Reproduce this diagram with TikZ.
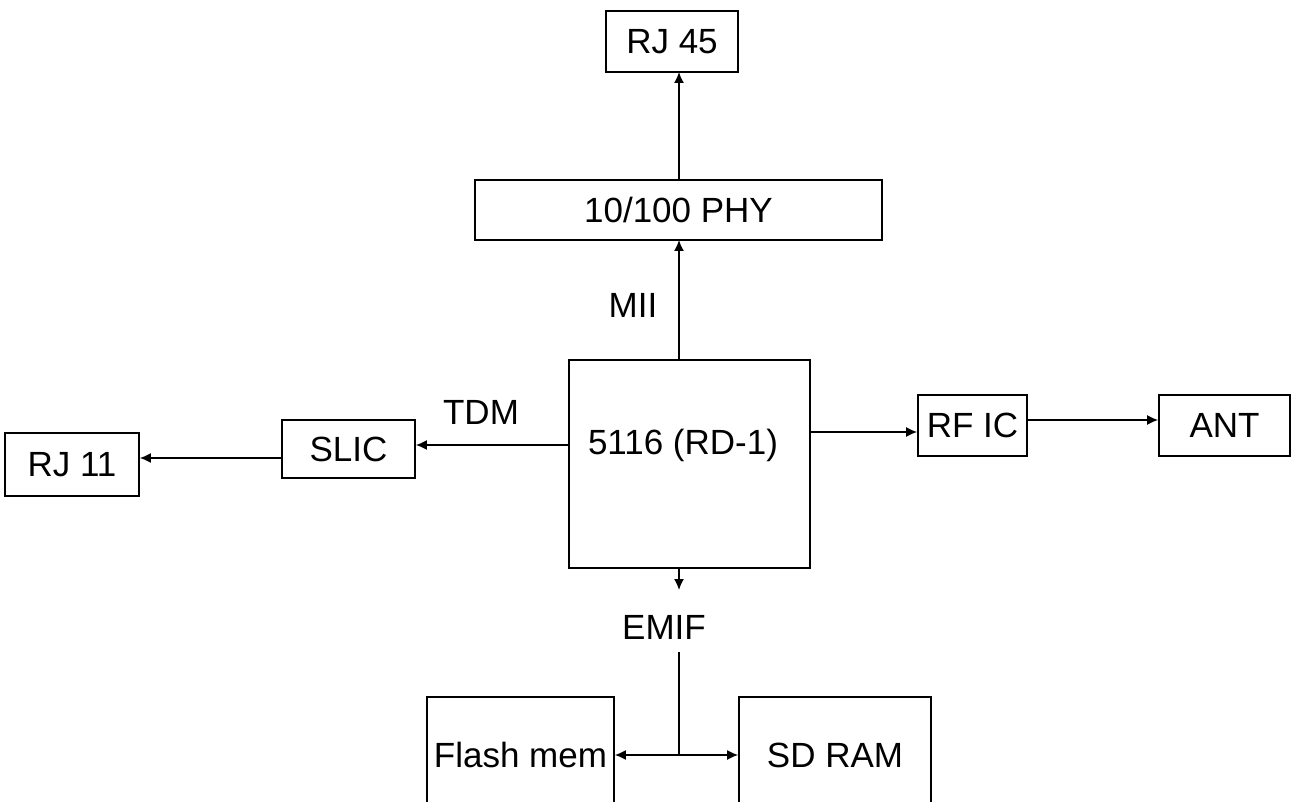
\documentclass[tikz,border=0pt]{standalone}
\usepackage{fontspec}
\setmainfont{Liberation Sans}
\usetikzlibrary{arrows.meta}
\begin{document}
\begin{tikzpicture}[x=1pt,y=-1pt,
  box/.style={draw,line width=1.6pt,inner sep=0pt,font=\fontsize{35}{42}\selectfont},
  lbl/.style={inner sep=0pt,font=\fontsize{35}{42}\selectfont},
  conn/.style={line width=1.6pt},
  arr/.style={conn,-{Latex[length=11pt,width=10pt]}},
  darr/.style={conn,{Latex[length=11pt,width=10pt]}-{Latex[length=11pt,width=10pt]}}]
\useasboundingbox (0,0) rectangle (1294,802);
\clip (0,0) rectangle (1294,802);
% boxes
\node[box,minimum width=132pt,minimum height=61pt] (rj45) at (672,41.5) {RJ 45};
\node[box,minimum width=407pt,minimum height=60pt] (phy) at (678.5,210) {10/100 PHY};
\node[box,minimum width=241pt,minimum height=208pt] (cpu) at (689.5,464) {};
\node[lbl] (cputxt) at (683,445) {5116 (RD-1)};
\node[box,minimum width=133pt,minimum height=58pt] (slic) at (348.5,449) {SLIC};
\node[box,minimum width=134pt,minimum height=63pt] (rj11) at (72,464.5) {RJ 11};
\node[box,minimum width=109pt,minimum height=61pt] (rfic) at (972.5,425.5) {RF IC};
\node[box,minimum width=131pt,minimum height=61pt] (ant) at (1224.5,425.5) {ANT};
\node[box,minimum width=187pt,minimum height=116pt] (flash) at (520.5,755) {Flash mem};
\node[box,minimum width=192pt,minimum height=116pt] (sdram) at (835,755) {SD RAM};
% labels
\node[lbl] (mii) at (633,305) {MII};
\node[lbl] (tdm) at (481,412) {TDM};
\node[lbl] (emif) at (664,627) {EMIF};
% coordinates
\coordinate (cpuTop) at (679,360);
\coordinate (phyBot) at (679,240);
\coordinate (phyTop) at (679,180);
\coordinate (rj45Bot) at (679,72);
\coordinate (cpuBot) at (679,568);
\coordinate (emifArr) at (679,590);
\coordinate (emifLine) at (679,652);
\coordinate (busJoin) at (679,755);
% connectors
\draw[arr] (phyTop) -- (rj45Bot);
\draw[arr] (cpuTop) -- (phyBot);
\draw[arr] (cpu.west |- 0,445) -- (slic.east |- 0,445);
\draw[arr] (slic.west |- 0,458) -- (rj11.east |- 0,458);
\draw[arr] (cpu.east |- 0,432) -- (rfic.west |- 0,432);
\draw[arr] (rfic.east |- 0,420) -- (ant.west |- 0,420);
\draw[arr] (cpuBot) -- (emifArr);
\draw[conn] (emifLine) -- (busJoin);
\draw[darr] (flash.east) -- (sdram.west);
\end{tikzpicture}
\end{document}
